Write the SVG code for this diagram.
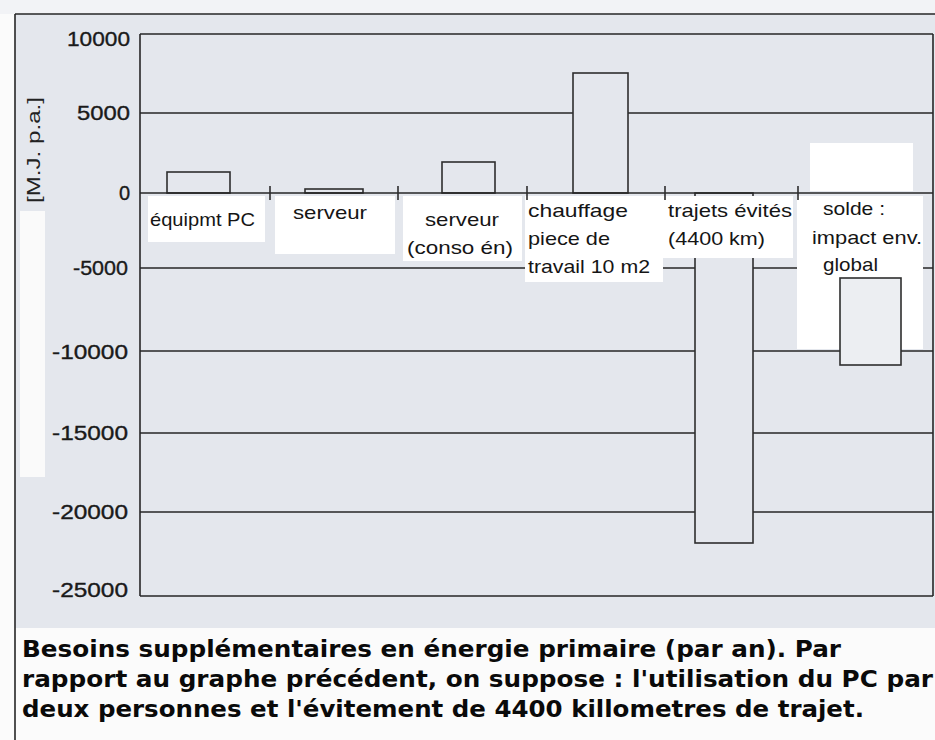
<svg xmlns="http://www.w3.org/2000/svg" width="935" height="740" viewBox="0 0 935 740">
<style>
.grid{stroke:#262626;stroke-width:1.6;fill:none}
.bar{fill:#e4e7ed;stroke:#2e2e2e;stroke-width:1.6}
.box{fill:#ffffff;stroke:none}
.tick{stroke:#2e2e2e;stroke-width:1.6}
.ylab{font-family:"Liberation Sans",Arial,sans-serif;font-size:20px;fill:#1a1a1a;stroke:#1a1a1a;stroke-width:0.35;text-anchor:end}
.cat{font-family:"Liberation Sans",Arial,sans-serif;font-size:19px;fill:#151515}
.cap{font-family:"DejaVu Sans","Open Sans",sans-serif;font-size:23px;font-weight:bold;fill:#0a0a0a}
</style>
<rect x="0" y="0" width="935" height="740" fill="#fbfbfb"/>
<rect x="15" y="14" width="920" height="614" fill="#e4e7ed"/>
<rect x="0" y="0" width="935" height="14" fill="#f2f3f6"/>
<g id="frame">
<line class="grid" x1="15" y1="14" x2="935" y2="14"/>
<line class="grid" x1="15" y1="14" x2="15" y2="740"/>
<rect x="20" y="211" width="25" height="266" fill="#fafafa"/>
</g>
<g id="gridlines">
<line class="grid" x1="140" y1="34" x2="933" y2="34"/>
<line class="grid" x1="140" y1="113" x2="933" y2="113"/>
<line class="grid" x1="140" y1="268" x2="933" y2="268"/>
<line class="grid" x1="140" y1="351" x2="933" y2="351"/>
<line class="grid" x1="140" y1="433" x2="933" y2="433"/>
<line class="grid" x1="140" y1="512" x2="933" y2="512"/>
<line class="grid" x1="140" y1="596" x2="933" y2="596"/>
<line class="grid" x1="140" y1="34" x2="140" y2="596"/>
<line class="grid" x1="933" y1="34" x2="933" y2="596"/>
</g>
<g id="yaxis">
<text class="ylab" x="130" y="46" textLength="63" lengthAdjust="spacingAndGlyphs">10000</text>
<text class="ylab" x="130" y="120" textLength="53" lengthAdjust="spacingAndGlyphs">5000</text>
<text class="ylab" x="130" y="200">0</text>
<text class="ylab" x="128" y="275" textLength="55" lengthAdjust="spacingAndGlyphs">-5000</text>
<text class="ylab" x="128" y="359" textLength="76" lengthAdjust="spacingAndGlyphs">-10000</text>
<text class="ylab" x="128" y="440" textLength="76" lengthAdjust="spacingAndGlyphs">-15000</text>
<text class="ylab" x="128" y="519" textLength="76" lengthAdjust="spacingAndGlyphs">-20000</text>
<text class="ylab" x="128" y="597" textLength="76" lengthAdjust="spacingAndGlyphs">-25000</text>
<text x="0" y="0" transform="translate(40,150) rotate(-90)" font-family="Liberation Sans, Arial, sans-serif" font-size="19" fill="#222" text-anchor="middle" textLength="106" lengthAdjust="spacingAndGlyphs">[M.J. p.a.]</text>
</g>
<g id="bars">
<rect class="bar" x="167" y="172" width="63" height="21"/>
<rect class="bar" x="305" y="189" width="58" height="4"/>
<rect class="bar" x="442" y="162" width="53" height="31"/>
<rect class="bar" x="573" y="73" width="55" height="120"/>
<rect class="bar" x="695" y="193" width="58" height="350"/>
</g>
<line class="grid" x1="140" y1="193" x2="933" y2="193"/>
<g id="n-equipmt">
<rect class="box" x="148" y="196" width="117" height="46"/>
<text class="cat" x="150" y="226" textLength="105" lengthAdjust="spacingAndGlyphs">équipmt PC</text>
</g>
<g id="n-serveur">
<rect class="box" x="275" y="196" width="120" height="58"/>
<text class="cat" x="293" y="219" textLength="74" lengthAdjust="spacingAndGlyphs">serveur</text>
</g>
<g id="n-serveur-conso">
<rect class="box" x="403" y="196" width="119" height="65"/>
<text class="cat" x="425" y="226" textLength="74" lengthAdjust="spacingAndGlyphs">serveur</text>
<text class="cat" x="407" y="254" textLength="106" lengthAdjust="spacingAndGlyphs">(conso én)</text>
</g>
<g id="n-chauffage">
<rect class="box" x="525" y="196" width="138" height="86"/>
<text class="cat" x="528" y="217" textLength="100" lengthAdjust="spacingAndGlyphs">chauffage</text>
<text class="cat" x="528" y="245" textLength="82" lengthAdjust="spacingAndGlyphs">piece de</text>
<text class="cat" x="528" y="273" textLength="122" lengthAdjust="spacingAndGlyphs">travail 10 m2</text>
</g>
<g id="n-trajets">
<rect class="box" x="663" y="196" width="130" height="62"/>
<text class="cat" x="668" y="217" textLength="124" lengthAdjust="spacingAndGlyphs">trajets évités</text>
<text class="cat" x="668" y="245" textLength="97" lengthAdjust="spacingAndGlyphs">(4400 km)</text>
</g>
<g id="n-solde">
<rect class="box" x="810" y="143" width="103" height="48"/>
<rect class="box" x="797" y="196" width="126" height="153"/>
<rect x="840" y="278" width="61" height="87" fill="#eceef2" stroke="#2e2e2e" stroke-width="1.6"/>
<text class="cat" x="823" y="215" textLength="62" lengthAdjust="spacingAndGlyphs">solde :</text>
<text class="cat" x="812" y="244" textLength="110" lengthAdjust="spacingAndGlyphs">impact env.</text>
<text class="cat" x="823" y="271" textLength="55" lengthAdjust="spacingAndGlyphs">global</text>
</g>
<g id="ticks">
<line class="tick" x1="270" y1="186" x2="270" y2="200"/>
<line class="tick" x1="398" y1="186" x2="398" y2="200"/>
<line class="tick" x1="527" y1="186" x2="527" y2="200"/>
<line class="tick" x1="665" y1="186" x2="665" y2="200"/>
<line class="tick" x1="798" y1="186" x2="798" y2="200"/>
</g>
<g id="connectors"/>
<g id="caption">
<text class="cap" x="22" y="657" textLength="819" lengthAdjust="spacingAndGlyphs">Besoins supplémentaires en énergie primaire (par an). Par</text>
<text class="cap" x="22" y="687" textLength="911" lengthAdjust="spacingAndGlyphs">rapport au graphe précédent, on suppose : l'utilisation du PC par</text>
<text class="cap" x="22" y="717" textLength="842" lengthAdjust="spacingAndGlyphs">deux personnes et l'évitement de 4400 killometres de trajet.</text>
</g>
</svg>
